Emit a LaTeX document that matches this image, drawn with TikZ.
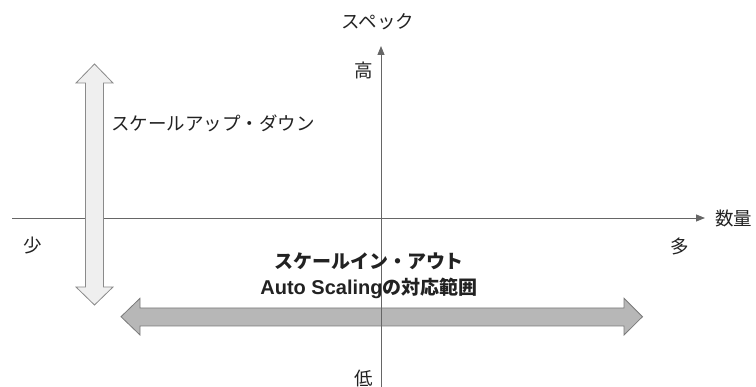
\documentclass[tikz,border=0pt]{standalone}
\usepackage{fontspec}
\setmainfont{Noto Sans CJK JP}
\newfontfamily\lat{Liberation Sans}
\usetikzlibrary{arrows.meta}
\definecolor{axisgray}{HTML}{666666}
\definecolor{txt}{HTML}{222222}
\definecolor{lightfill}{HTML}{EFEFEF}
\definecolor{lightline}{HTML}{8A8A8A}
\definecolor{darkfill}{HTML}{B7B7B7}
\definecolor{darkline}{HTML}{7A7A7A}
\begin{document}
\begin{tikzpicture}[x=1pt,y=-1pt,
  axis/.style={draw=axisgray,line width=0.9pt,-{Triangle[length=9pt,width=7pt]}},
  lbl/.style={text=txt,font=\fontsize{18.5}{20}\selectfont,inner sep=0pt},
  boldlbl/.style={text=txt,font=\fontsize{19}{26}\selectfont\bfseries,inner sep=0pt,align=center},
  lightarrow/.style={fill=lightfill,draw=lightline,line width=0.8pt,line join=miter},
  darkarrow/.style={fill=darkfill,draw=darkline,line width=0.8pt,line join=miter}]
\useasboundingbox (0,0) rectangle (756,387);
% axes
\coordinate (xs) at (12,218);
\coordinate (xe) at (705,218);
\coordinate (ys) at (381,387);
\coordinate (ye) at (381,46);
\draw[axis] (xs) -- (xe);
% light vertical double arrow
\draw[lightarrow] (94.5,64) -- (113,83) -- (103.5,83) -- (103.5,287) -- (113,287) -- (94.5,305) -- (76,287) -- (85.5,287) -- (85.5,83) -- (76,83) -- cycle;
% dark horizontal double arrow
\draw[darkarrow] (121,316.7) -- (140,298.3) -- (140,308) -- (624,308) -- (624,298.3) -- (642.5,316.7) -- (624,335) -- (624,326) -- (140,326) -- (140,335) -- cycle;
\draw[axis] (ys) -- (ye);
% labels
\node[lbl] (spec) at (378,22) {スペック};
\node[lbl] (high) at (364,70) {高};
\node[lbl] (low) at (364,378) {低};
\node[lbl] (few) at (33,246) {少};
\node[lbl] (many) at (680,246) {多};
\node[lbl,anchor=west] (qty) at (715,218) {数量};
\node[lbl,anchor=west] (updown) at (111,123) {スケールアップ・ダウン};
\node[boldlbl] (inout) at (369,276) {スケールイン・アウト\\{\lat\bfseries\fontsize{20}{26}\selectfont Auto Scaling}の対応範囲};
\end{tikzpicture}
\end{document}
